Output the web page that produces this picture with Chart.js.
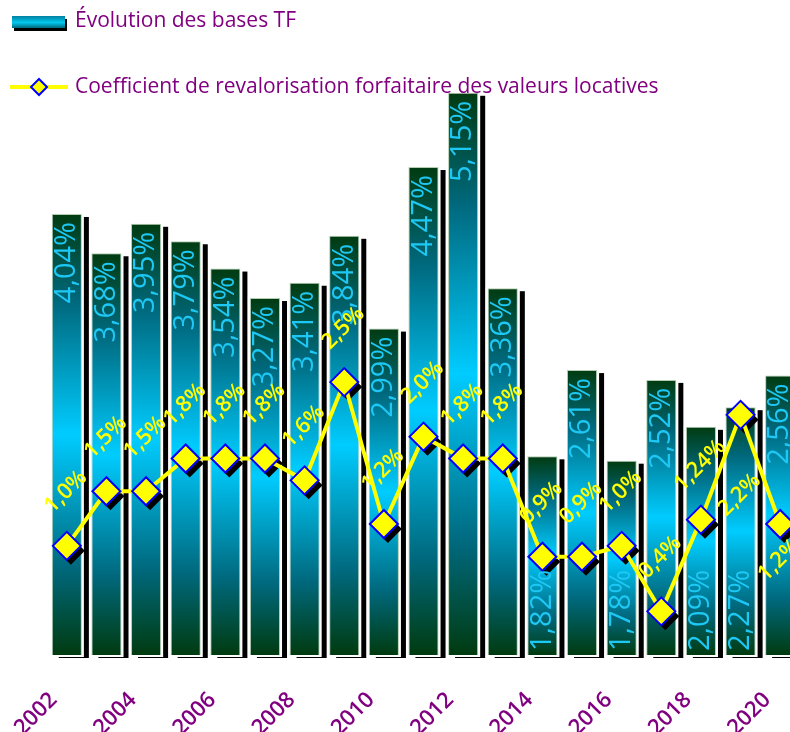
<!DOCTYPE html>
<html>
<head>
<meta charset="utf-8">
<script src="https://cdn.jsdelivr.net/npm/chart.js@4.4.1/dist/chart.umd.min.js"></script>
<style>
  html, body { margin: 0; padding: 0; background: #fff; overflow: hidden; }
  #wrap { position: relative; width: 790px; height: 732px; overflow: hidden; }
  canvas { display: block; }
</style>
</head>
<body>
<div id="wrap"><canvas id="chart" width="810" height="732"></canvas></div>
<script>
const years = ["2002", "2003", "2004", "2005", "2006", "2007", "2008", "2009", "2010", "2011",
  "2012", "2013", "2014", "2015", "2016", "2017", "2018", "2019", "2020"];
const basesTF = [4.04, 3.68, 3.95, 3.79, 3.54, 3.27, 3.41, 3.84, 2.99, 4.47,
  5.15, 3.36, 1.82, 2.61, 1.78, 2.52, 2.09, 2.27, 2.56];
const coefficient = [1.0, 1.5, 1.5, 1.8, 1.8, 1.8, 1.6, 2.5, 1.2, 2.0,
  1.8, 1.8, 0.9, 0.9, 1.0, 0.4, 1.24, 2.2, 1.2];
const yMax = 6;

const PURPLE = "#800080";
const FONT = "'Open Sans', 'DejaVu Sans', sans-serif";

const fmtBar = (v) => v.toFixed(2).replace(".", ",") + "%";
const fmtCoef = (v) =>
  (Math.round(v * 10) === v * 10 ? v.toFixed(1) : v.toFixed(2)).replace(".", ",") + "%";

function barGradient(ctx) {
  const chart = ctx.chart;
  if (!chart.chartArea || ctx.type !== "data") return "#0090b0";
  const y = chart.scales.y;
  const top = y.getPixelForValue(ctx.raw);
  const base = y.getPixelForValue(0);
  const g = chart.ctx.createLinearGradient(0, top, 0, base);
  g.addColorStop(0, "#003b10");
  g.addColorStop(0.2, "#00697e");
  g.addColorStop(0.5, "#00ccff");
  g.addColorStop(0.8, "#00697e");
  g.addColorStop(1, "#003b10");
  return g;
}

function diamond(c, x, y, r) {
  c.beginPath();
  c.moveTo(x, y - r);
  c.lineTo(x + r, y);
  c.lineTo(x, y + r);
  c.lineTo(x - r, y);
  c.closePath();
}

const shadowPlugin = {
  id: "shadows",
  beforeDatasetDraw(chart, args) {
    const c = chart.ctx;
    const meta = args.meta;
    c.save();
    if (meta.type === "bar") {
      meta.data.forEach((el) => {
        const left = el.x - el.width / 2;
        c.fillStyle = "#000";
        c.fillRect(left + 7, el.y + 3, el.width, el.base - el.y);
      });
      meta.data.forEach((el) => {
        const left = el.x - el.width / 2;
        c.fillStyle = "#fff";
        c.fillRect(left - 2, el.y - 1, el.width + 4, el.base - el.y + 3);
      });
    } else {
      c.fillStyle = "#000";
      meta.data.forEach((el) => {
        diamond(c, el.x + 4, el.y + 5, 14);
        c.fill();
      });
    }
    c.restore();
  },
};

// the last two coefficient labels sit under their points
const labelBelow = { 17: 80, 18: 36 };

const labelPlugin = {
  id: "valueLabels",
  afterDatasetsDraw(chart) {
    const c = chart.ctx;
    const barMeta = chart.getDatasetMeta(0);
    const lineMeta = chart.getDatasetMeta(1);
    c.save();
    c.font = "29px " + FONT;
    c.fillStyle = "#1ec8f4";
    c.textBaseline = "middle";
    barMeta.data.forEach((el, i) => {
      const v = basesTF[i];
      c.save();
      if (v >= 2.4) {
        c.translate(el.x, el.y + 8);
        c.rotate(-Math.PI / 2);
        c.textAlign = "right";
      } else {
        c.translate(el.x, el.base - 4);
        c.rotate(-Math.PI / 2);
        c.textAlign = "left";
      }
      c.fillText(fmtBar(v), 0, 0);
      c.restore();
    });
    c.font = "600 22px " + FONT;
    c.fillStyle = "#ffff00";
    c.textAlign = "center";
    lineMeta.data.forEach((el, i) => {
      const dy = labelBelow[i] !== undefined ? labelBelow[i] : -54;
      c.save();
      c.translate(el.x - 1, el.y + dy);
      c.rotate(-Math.PI / 4);
      c.fillText(fmtCoef(coefficient[i]), 0, 0);
      c.restore();
    });
    c.restore();
  },
};

const legendPlugin = {
  id: "customLegend",
  afterDraw(chart) {
    const c = chart.ctx;
    const ds = chart.data.datasets;
    c.save();
    // bar swatch
    c.fillStyle = "#000";
    c.fillRect(14, 19, 53, 12);
    const g = c.createLinearGradient(0, 16, 0, 29);
    g.addColorStop(0, "#007f9e");
    g.addColorStop(0.5, "#00c8f0");
    g.addColorStop(1, "#00586a");
    c.fillStyle = g;
    c.fillRect(12, 16, 53, 12);
    c.font = "21px " + FONT;
    c.fillStyle = PURPLE;
    c.textBaseline = "middle";
    c.textAlign = "left";
    c.fillText(ds[0].label, 75, 21);
    // line swatch
    c.strokeStyle = "#ffff00";
    c.lineWidth = 4;
    c.beginPath();
    c.moveTo(10, 87);
    c.lineTo(68, 87);
    c.stroke();
    diamond(c, 39, 87, 8);
    c.fillStyle = "#ffff00";
    c.fill();
    c.strokeStyle = "#0000ff";
    c.lineWidth = 2;
    c.stroke();
    c.fillStyle = PURPLE;
    c.fillText(ds[1].label, 75, 87);
    c.restore();
  },
};

new Chart(document.getElementById("chart"), {
  data: {
    labels: years,
    datasets: [
      {
        type: "bar",
        label: "Évolution des bases TF",
        data: basesTF,
        backgroundColor: barGradient,
        borderColor: "rgba(170,200,170,0.9)",
        borderWidth: 1,
        barPercentage: 0.76,
        categoryPercentage: 1,
        order: 2,
      },
      {
        type: "line",
        label: "Coefficient de revalorisation forfaitaire des valeurs locatives",
        data: coefficient,
        borderColor: "#ffff00",
        borderWidth: 4,
        pointStyle: "rectRot",
        pointRadius: 14,
        pointHoverRadius: 14,
        pointBackgroundColor: "#ffff00",
        pointBorderColor: "#0000ff",
        pointBorderWidth: 2,
        tension: 0,
        clip: false,
        order: 1,
      },
    ],
  },
  options: {
    responsive: false,
    animation: false,
    layout: { autoPadding: false, padding: { left: 47, right: 10, top: 0, bottom: 0 } },
    plugins: {
      legend: { display: false },
      tooltip: { enabled: false },
    },
    scales: {
      x: {
        grid: { display: false },
        border: { display: false },
        ticks: {
          autoSkip: false,
          minRotation: 45,
          maxRotation: 45,
          padding: 24,
          labelOffset: -13,
          color: PURPLE,
          font: { family: FONT, size: 22, weight: "600" },
          callback: (val, i) => (i % 2 === 0 ? years[i] : ""),
        },
        afterFit: (scale) => {
          scale.height = 77;
          scale.paddingLeft = 0;
          scale.paddingRight = 0;
        },
      },
      y: {
        display: false,
        min: 0,
        max: yMax,
      },
    },
  },
  plugins: [shadowPlugin, labelPlugin, legendPlugin],
});
</script>
</body>
</html>
